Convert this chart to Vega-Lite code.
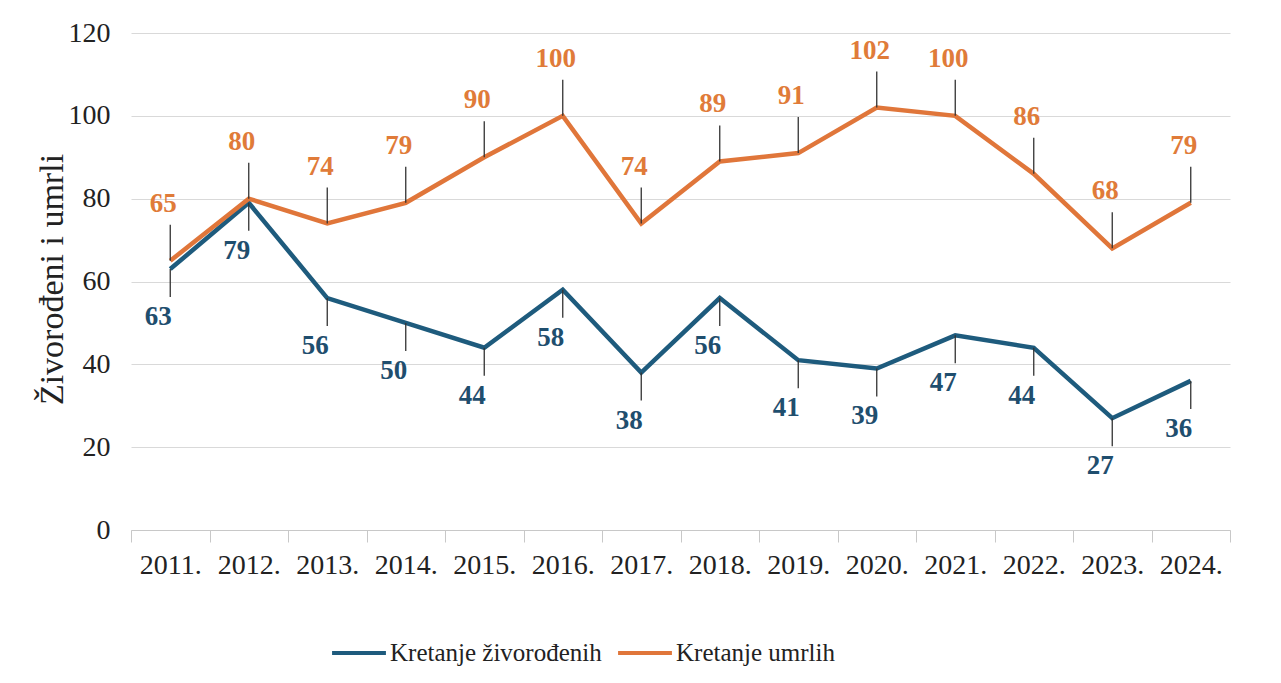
{
  "$schema": "https://vega.github.io/schema/vega-lite/v6.json",
  "width": 1099,
  "height": 497,
  "autosize": {"type": "none"},
  "padding": {"left": 131, "top": 33, "right": 51, "bottom": 153},
  "background": "white",
  "config": {
    "font": "Liberation Serif",
    "view": {"stroke": null},
    "legend": {"labelFont": "Liberation Serif", "labelFontSize": 25, "labelLimit": 400, "labelColor": "#222222"},
    "axis": {"labelFont": "Liberation Serif", "titleFont": "Liberation Serif"},
    "text": {"font": "Liberation Serif"}
  },
  "data": {
    "values": [
      {"year": "2011.", "series": "Kretanje živorođenih", "value": 63},
      {"year": "2012.", "series": "Kretanje živorođenih", "value": 79},
      {"year": "2013.", "series": "Kretanje živorođenih", "value": 56},
      {"year": "2014.", "series": "Kretanje živorođenih", "value": 50},
      {"year": "2015.", "series": "Kretanje živorođenih", "value": 44},
      {"year": "2016.", "series": "Kretanje živorođenih", "value": 58},
      {"year": "2017.", "series": "Kretanje živorođenih", "value": 38},
      {"year": "2018.", "series": "Kretanje živorođenih", "value": 56},
      {"year": "2019.", "series": "Kretanje živorođenih", "value": 41},
      {"year": "2020.", "series": "Kretanje živorođenih", "value": 39},
      {"year": "2021.", "series": "Kretanje živorođenih", "value": 47},
      {"year": "2022.", "series": "Kretanje živorođenih", "value": 44},
      {"year": "2023.", "series": "Kretanje živorođenih", "value": 27},
      {"year": "2024.", "series": "Kretanje živorođenih", "value": 36},
      {"year": "2011.", "series": "Kretanje umrlih", "value": 65},
      {"year": "2012.", "series": "Kretanje umrlih", "value": 80},
      {"year": "2013.", "series": "Kretanje umrlih", "value": 74},
      {"year": "2014.", "series": "Kretanje umrlih", "value": 79},
      {"year": "2015.", "series": "Kretanje umrlih", "value": 90},
      {"year": "2016.", "series": "Kretanje umrlih", "value": 100},
      {"year": "2017.", "series": "Kretanje umrlih", "value": 74},
      {"year": "2018.", "series": "Kretanje umrlih", "value": 89},
      {"year": "2019.", "series": "Kretanje umrlih", "value": 91},
      {"year": "2020.", "series": "Kretanje umrlih", "value": 102},
      {"year": "2021.", "series": "Kretanje umrlih", "value": 100},
      {"year": "2022.", "series": "Kretanje umrlih", "value": 86},
      {"year": "2023.", "series": "Kretanje umrlih", "value": 68},
      {"year": "2024.", "series": "Kretanje umrlih", "value": 79}
    ]
  },
  "encoding": {
    "x": {
      "field": "year",
      "type": "ordinal",
      "bandPosition": 0.5,
      "scale": {"type": "band", "paddingInner": 0, "paddingOuter": 0},
      "axis": {
        "title": null,
        "labelAngle": 0,
        "labelFont": "Liberation Serif",
        "labelFontSize": 28,
        "labelColor": "#222222",
        "labelPadding": 9,
        "domainColor": "#c8c8c8",
        "tickColor": "#c8c8c8",
        "tickSize": 12,
        "tickBand": "extent",
        "grid": false
      }
    },
    "y": {
      "field": "value",
      "type": "quantitative",
      "scale": {"domain": [0, 120]},
      "axis": {
        "title": "Živorođeni i umrli",
        "titleFont": "Liberation Serif",
        "titleFontSize": 34,
        "titleFontWeight": "normal",
        "titleColor": "#222222",
        "titleX": -79,
        "titleY": 246,
        "titleAngle": -90,
        "titleAlign": "center",
        "titleBaseline": "middle",
        "values": [0, 20, 40, 60, 80, 100, 120],
        "labelFont": "Liberation Serif",
        "labelFontSize": 28,
        "labelColor": "#222222",
        "labelPadding": 21,
        "ticks": false,
        "domain": false,
        "gridColor": "#d9d9d9",
        "gridWidth": 1.2
      }
    }
  },
  "layer": [
    {
      "mark": {"type": "line", "strokeWidth": 4.5},
      "encoding": {
        "color": {
          "field": "series",
          "type": "nominal",
          "scale": {
            "domain": ["Kretanje živorođenih", "Kretanje umrlih"],
            "range": ["#1e5b7d", "#e0763a"]
          },
          "legend": {
            "title": null,
            "orient": "none",
            "direction": "horizontal",
            "legendX": 199,
            "legendY": 591,
            "symbolType": "stroke",
            "symbolSize": 2900,
            "symbolStrokeWidth": 4,
            "labelFont": "Liberation Serif",
            "labelFontSize": 25,
            "labelLimit": 400,
            "labelColor": "#222222",
            "columnPadding": 8,
            "labelOffset": 2
          }
        },
        "order": {"field": "series", "sort": "descending"}
      }
    },
    {
      "transform": [{"filter": "datum.series === 'Kretanje umrlih'"}],
      "mark": {"type": "rule", "color": "#333333", "strokeWidth": 1.3, "y2Offset": -36},
      "encoding": {"y2": {"field": "value"}}
    },
    {
      "transform": [{"filter": "datum.series === 'Kretanje živorođenih'"}],
      "mark": {"type": "rule", "color": "#333333", "strokeWidth": 1.3, "y2Offset": 28},
      "encoding": {"y2": {"field": "value"}}
    },
    {
      "transform": [{"filter": "datum.series === 'Kretanje umrlih'"}],
      "mark": {"type": "text", "font": "Liberation Serif", "fontSize": 27, "fontWeight": "bold", "color": "#e07b39", "dy": -57, "dx": -7},
      "encoding": {"text": {"field": "value", "type": "quantitative"}}
    },
    {
      "transform": [{"filter": "datum.series === 'Kretanje živorođenih'"}],
      "mark": {"type": "text", "font": "Liberation Serif", "fontSize": 27, "fontWeight": "bold", "color": "#1f4e6e", "dy": 48, "dx": -12},
      "encoding": {"text": {"field": "value", "type": "quantitative"}}
    }
  ]
}
